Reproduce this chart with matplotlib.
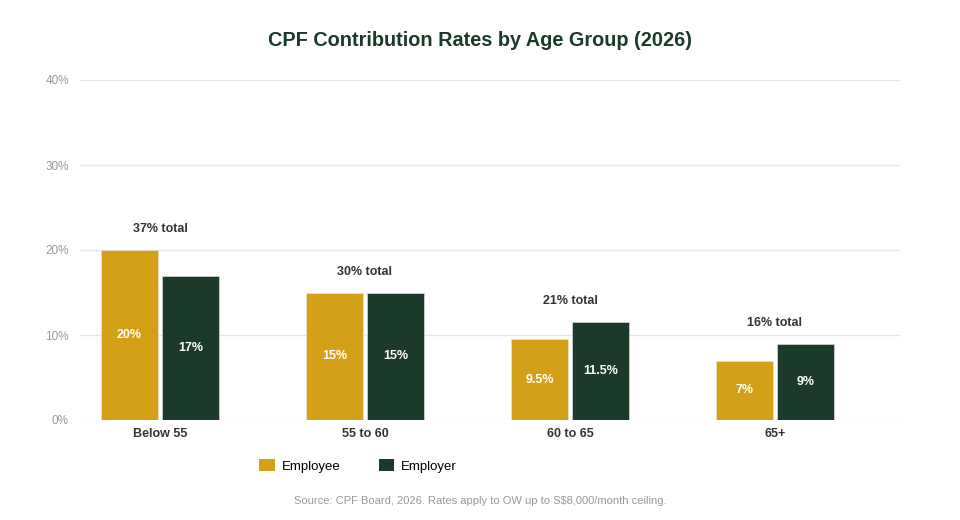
import numpy as np
import matplotlib.pyplot as plt
from matplotlib.patches import Patch

plt.rcParams['font.family'] = ['Liberation Sans', 'DejaVu Sans']

# Data
groups = ['Below 55', '55 to 60', '60 to 65', '65+']
employee = [20, 15, 9.5, 7]
employer = [17, 15, 11.5, 9]
employee_labels = ['20%', '15%', '9.5%', '7%']
employer_labels = ['17%', '15%', '11.5%', '9%']
total_labels = ['37% total', '30% total', '21% total', '16% total']
y_ticks = [0, 10, 20, 30, 40]

gold = '#D4A017'
green = '#1B3A2A'

fig = plt.figure(figsize=(9.6, 5.2), dpi=100)
ax = fig.add_axes([80 / 960, 1 - 420 / 520, 820 / 960, 340 / 520])

x = np.arange(len(groups))
w = 0.278
off = 0.149

ax.bar(x - off, employee, w, color=gold, edgecolor='#e8e0c8', linewidth=0.6, zorder=3)
ax.bar(x + off, employer, w, color=green, edgecolor='#c8d0cc', linewidth=0.6, zorder=3)

for i in range(len(groups)):
    ax.text(x[i] - off, employee[i] / 2, employee_labels[i], ha='center', va='center',
            color='white', fontsize=9, fontweight='bold', zorder=4)
    ax.text(x[i] + off, employer[i] / 2, employer_labels[i], ha='center', va='center',
            color='white', fontsize=9, fontweight='bold', zorder=4)
    top = max(employee[i], employer[i])
    ax.annotate(total_labels[i], (x[i], top), xytext=(0, 15), textcoords='offset points',
                ha='center', va='center', fontsize=9, fontweight='bold', color='#333333')

ax.set_xlim(-0.39, 3.61)
ax.set_ylim(0, 40)
ax.set_yticks(y_ticks)
ax.set_yticklabels([f'{t}%' for t in y_ticks])
ax.set_xticks(x)
ax.set_xticklabels(groups, fontweight='bold', fontsize=9, color='#333333')
ax.tick_params(axis='y', length=0, labelsize=8.5, labelcolor='#999999', pad=8)
ax.tick_params(axis='x', length=0, pad=6)
ax.grid(axis='y', color='#e6e6e6', linewidth=1, zorder=0)
for s in ax.spines.values():
    s.set_visible(False)

fig.text(0.5, 1 - 40 / 520, 'CPF Contribution Rates by Age Group (2026)', ha='center', va='center',
         fontsize=14.3, fontweight='bold', color=green)

handles = [Patch(facecolor=gold, label='Employee'), Patch(facecolor=green, label='Employer')]
fig.legend(handles=handles, loc='center', bbox_to_anchor=(358 / 960, 1 - 466 / 520), ncol=2,
           frameon=False, fontsize=9.5, handlelength=1.2, handleheight=1.0,
           handletextpad=0.5, columnspacing=2.9)

fig.text(0.5, 1 - 501 / 520, 'Source: CPF Board, 2026. Rates apply to OW up to S$8,000/month ceiling.',
         ha='center', va='center', fontsize=8, color='#999999')

fig.savefig('out.png', dpi=100, facecolor='white')
